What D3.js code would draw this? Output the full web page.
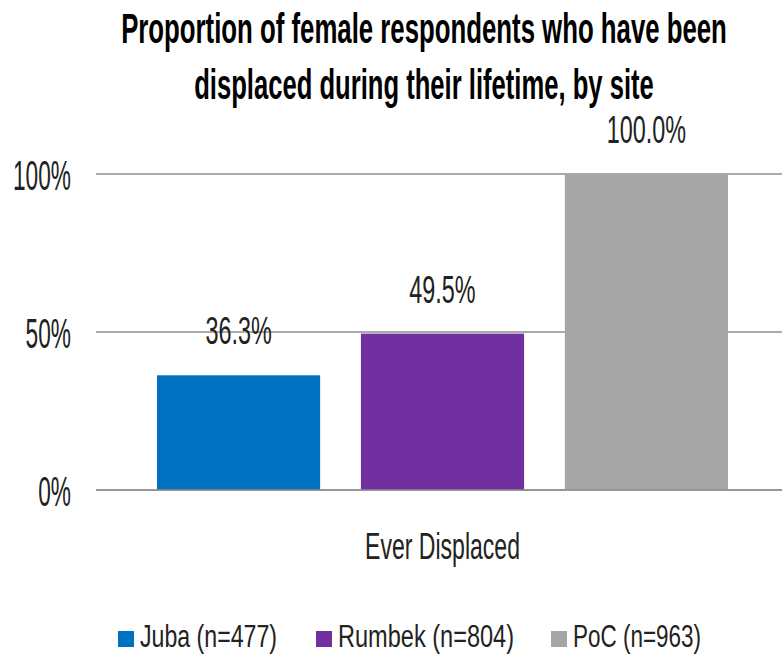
<!DOCTYPE html>
<html>
<head>
<meta charset="utf-8">
<script src="https://cdn.jsdelivr.net/npm/d3@7/dist/d3.min.js"></script>
<style>
  html, body { margin: 0; padding: 0; background: #fff; }
  svg { display: block; font-family: "Liberation Sans", Arial, sans-serif; }
</style>
</head>
<body>
<svg id="chart" width="782" height="664"></svg>
<script>
const titleLines = ["Proportion of female respondents who have been", "displaced during their lifetime, by site"];
const categories = ["Ever Displaced"];
const seriesNames = ["Juba (n=477)", "Rumbek (n=804)", "PoC (n=963)"];
const seriesValues = [0.363, 0.495, 1.0];
const seriesColors = ["#0070c0", "#7030a0", "#a6a6a6"];
const tickValues = [0, 0.5, 1];

const svg = d3.select("#chart");

// squeeze helper: scale text width by factor k (or to a fixed width)
function squeeze(sel, k, fixed) {
  sel.each(function() {
    const w = this.getComputedTextLength();
    const target = fixed != null ? fixed : w * k;
    d3.select(this).attr("textLength", target).attr("lengthAdjust", "spacingAndGlyphs");
  });
}

// Title (horizontally compressed with a transform)
const titleBaselines = [43, 99];
const titleWidths = [606, 460];
titleLines.forEach((t, i) => {
  const g = svg.append("g");
  const el = g.append("text")
    .attr("x", 0).attr("y", 0)
    .attr("text-anchor", "middle")
    .attr("font-weight", "bold")
    .attr("font-size", 43)
    .attr("fill", "#000")
    .text(t);
  const w = el.node().getComputedTextLength();
  g.attr("transform", `translate(424,${titleBaselines[i]}) scale(${titleWidths[i] / w},1)`);
});

const plotLeft = 96, plotRight = 782;
const y = d3.scaleLinear().domain([0, 1]).range([490, 174]);

const x1 = d3.scaleBand().domain(seriesNames).range([157, 728]).paddingInner(0.2);

// gridlines
svg.append("g")
  .selectAll("line").data(tickValues).join("line")
  .attr("x1", plotLeft).attr("x2", plotRight)
  .attr("y1", d => y(d)).attr("y2", d => y(d))
  .attr("stroke", "#8f8f8f").attr("stroke-width", 1.6);

// y axis labels
const yAxis = svg.append("g")
  .attr("transform", `translate(${plotLeft},0)`)
  .call(d3.axisLeft(y).tickValues(tickValues).tickFormat(d3.format(".0%")).tickSize(0).tickPadding(25));
yAxis.select(".domain").remove();
yAxis.selectAll("text")
  .attr("font-family", "'Liberation Sans', Arial, sans-serif")
  .attr("font-size", 42).attr("fill", "#222").attr("dy", "0.36em");
squeeze(yAxis.selectAll("text"), 0.54);

// bars
const data = seriesNames.map((s, i) => ({ name: s, value: seriesValues[i], color: seriesColors[i] }));
svg.append("g").selectAll("rect").data(data).join("rect")
  .attr("x", d => x1(d.name))
  .attr("y", d => y(d.value))
  .attr("width", x1.bandwidth())
  .attr("height", d => y(0) - y(d.value))
  .attr("fill", d => d.color);

// redraw baseline over bars
svg.append("line")
  .attr("x1", plotLeft).attr("x2", plotRight)
  .attr("y1", y(0)).attr("y2", y(0))
  .attr("stroke", "#8f8f8f").attr("stroke-width", 1.6);

// data labels
const labels = svg.append("g").selectAll("text").data(data).join("text")
  .attr("x", d => x1(d.name) + x1.bandwidth() / 2)
  .attr("y", d => y(d.value) - 31)
  .attr("text-anchor", "middle")
  .attr("font-size", 39).attr("fill", "#222")
  .text(d => d3.format(".1%")(d.value));
squeeze(labels, 0.60);

// category label
const cat = svg.append("text")
  .attr("x", (x1.range()[0] + x1.range()[1]) / 2)
  .attr("y", 559)
  .attr("text-anchor", "middle")
  .attr("font-size", 36).attr("fill", "#222")
  .text(categories[0]);
squeeze(cat, 0.64);

// legend
const legendX = [118, 316, 551];
const legendW = [137, 176, 128];
const lg = svg.append("g").selectAll("g").data(data).join("g")
  .attr("transform", (d, i) => `translate(${legendX[i]},0)`);
lg.append("rect").attr("x", 0).attr("y", 631).attr("width", 16).attr("height", 16).attr("fill", d => d.color);
lg.append("text").attr("x", 22).attr("y", 647)
  .attr("font-size", 31).attr("fill", "#222")
  .text(d => d.name)
  .each(function(d, i) { squeeze(d3.select(this), null, legendW[i]); });
</script>
</body>
</html>
